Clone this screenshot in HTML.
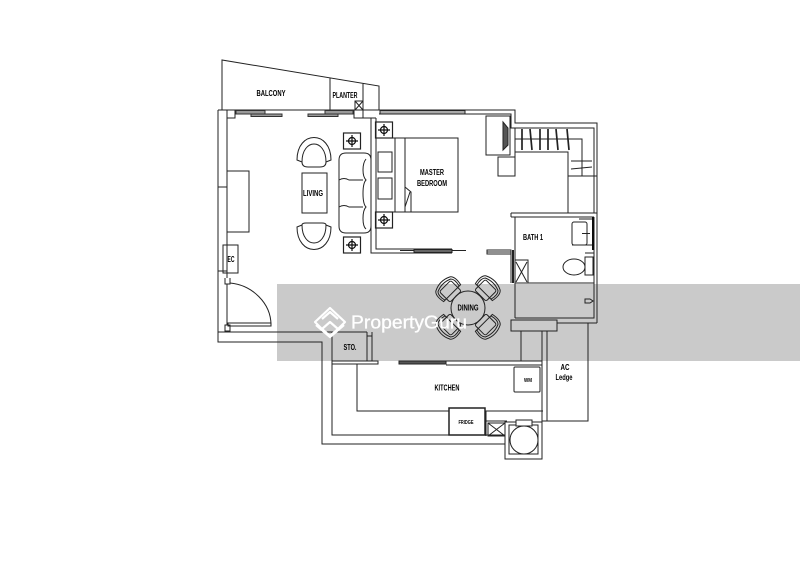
<!DOCTYPE html>
<html><head><meta charset="utf-8"><style>
html,body{margin:0;padding:0;background:#fff}
svg{display:block}
text{font-family:"Liberation Sans",sans-serif;fill:#000;font-weight:bold;text-anchor:middle}
</style></head><body>
<svg width="800" height="566" viewBox="0 0 800 566" xmlns="http://www.w3.org/2000/svg">
<defs>
<filter id="b"><feGaussianBlur stdDeviation="0.35"/></filter>
<g id="lamp"><rect x="-8.500" y="-8" width="17" height="16" fill="none" stroke="#222" stroke-width="1.200"/><circle r="3.500" fill="none" stroke="#111" stroke-width="1.200"/><path d="M-6 0H6M0-6V6" stroke="#111" stroke-width="1.200"/></g>
<g id="chair" fill="none" stroke="#222" stroke-width="1"><rect x="-8" y="-7" width="16" height="15" rx="2"/><path d="M-10 3Q-12-5-9-8Q0-12 9-8Q12-5 10 3"/><path d="M-12 3Q-14-7-10-10Q0-15 10-10Q14-7 12 3Z"/></g>
</defs>
<rect width="800" height="566" fill="#fff"/>
<rect x="277" y="284" width="523" height="77" fill="#cacaca"/>
<g filter="url(#b)">
<g fill="none" stroke="#222" stroke-width="1">
<!-- balcony -->
<path d="M222 110V60L379 86V110M330 78V110M363 83V118"/>
<rect x="355" y="101" width="8" height="9"/><path d="M355 101L363 110M363 101L355 110"/>
<!-- outer wall living -->
<path d="M218 110H379M218 110V342H322V444H505M227 118V278M227 284V325M218 332H367M332 332V435H505"/>
<path d="M218 187H227M218 271H227"/>
<rect x="227" y="110" width="8" height="8"/><rect x="354" y="110" width="9" height="8"/>
<path d="M363 118H376M371 118V253H452M376 118V249H452"/>
<!-- window strips -->
<g fill="#999" stroke="#333"><rect x="236" y="110.500" width="29" height="3.500"/><rect x="251" y="114" width="31" height="2.500"/><rect x="308" y="114" width="30" height="2.500"/><rect x="325" y="110.500" width="28" height="3.500"/></g>
<!-- bedroom top wall -->
<path d="M379 110H515V123H597V323M379 114H511V128H594V213M515 114V123"/>
<rect x="380" y="110.500" width="85" height="3.500" fill="#aaa"/>
<!-- wardrobe -->
<rect x="486" y="116" width="24" height="39"/>
<path d="M503 122L508 128V145L503 150Z" fill="#555"/>
<rect x="498" y="157" width="17" height="19"/>
<path d="M515 128V157M515 139H582V176M515 152H568V213M568 176H597M571 161H592M571 169L592 167"/>
<path d="M522 129V150M530 129L532 150M540 129V150M548 129V150M556 129L558 150M567 129L569 150" stroke-width="1.700" stroke="#222"/>
<!-- bath -->
<path d="M511 213H597M511 217H594M511 213V217M515 217V318M511 250V283M515 318H594V217M511 320H557V331H511ZM557 323H597"/>
<path d="M513 250V283" stroke-width="2" stroke="#222"/>
<rect x="572" y="222" width="15" height="23" rx="2"/><path d="M579 219H593M572 245H593M585 253H594M582 233.500H590"/>
<path d="M593 217V250" stroke-width="2" stroke="#111"/>
<rect x="515" y="260" width="13" height="23"/><path d="M516 262L527 282M527 262L516 282"/>
<ellipse cx="574" cy="267" rx="11" ry="8"/><rect x="585" y="257" width="8" height="18"/>
<path d="M515 283H594"/>
<path d="M585 299H590L593 301L590 303H585Z"/>
<!-- bedroom furniture -->
<path d="M376 138H458V212H376M395 138V212M405 138V212M405 187L411 192V212M405 207L410 192"/>
<rect x="378" y="152" width="14" height="20"/><rect x="378" y="178" width="14" height="21"/>
<path d="M400 250.500H466M487 252H511"/>
<rect x="414" y="249.500" width="38" height="3" fill="#666"/>
<rect x="487" y="250" width="24" height="4"/>
<!-- sofa -->
<path d="M339 160Q339 153 346 153H364Q371 153 371 160V226Q371 233 364 233H346Q339 233 339 226Z"/>
<path d="M339 180Q344 177 349 180H363M339 207Q344 204 349 207H363M366 159C362 164 362 176 366 180C362 184 362 203 366 207C362 211 362 226 366 229"/>
<!-- living chairs -->
<path d="M297 160C297 130 331 130 331 160L326 162C326 138 302 138 302 162Z"/>
<path d="M302 162Q302 167 308 167H320Q326 167 326 162"/>
<path d="M297 227C297 257 331 257 331 227L326 225C326 249 302 249 302 225Z"/>
<path d="M302 225Q302 223 306 223H322Q326 223 326 225"/>
<rect x="302" y="173" width="25" height="40"/>
<rect x="227" y="171" width="22" height="61"/>
<rect x="223" y="245" width="15" height="28"/>
<path d="M230 283C252 285 271 303 271 325"/>
<rect x="228" y="323" width="43" height="3"/>
<path d="M225 278V284H230V278M225 325H230V331H225Z"/>
<!-- dining -->
<circle cx="468" cy="308" r="17"/>
<!-- kitchen -->
<path d="M367 332V361M372 332V361M367 336H372M332 361H378V364H332M357 364V411H449M485 411H543M446 361H542M446 365H542M399 362H446M521 331V361M542 331V421H547V331M547 421H588V323"/>
<rect x="399" y="361" width="47" height="3" fill="#555"/>
<rect x="514" y="367" width="26" height="25" rx="1"/>
<rect x="449" y="408" width="36" height="27" stroke-width="1.500"/>
<path d="M486 411V436M486 421H507"/>
<rect x="488" y="423" width="17" height="13"/><path d="M488 423L505 436M505 423L488 436"/>
<rect x="505" y="422" width="37" height="37"/><rect x="509" y="425" width="29" height="29"/>
<circle cx="524" cy="440" r="14"/><rect x="516" y="420" width="16" height="6" fill="#fff"/>
</g>
<use href="#lamp" x="352" y="141"/><use href="#lamp" x="352" y="245"/><use href="#lamp" x="384" y="130"/><use href="#lamp" x="384" y="220"/>
<use href="#chair" transform="translate(450 291) rotate(-45)"/>
<use href="#chair" transform="translate(486 290) rotate(45)"/>
<use href="#chair" transform="translate(486 325) rotate(135)"/>
<use href="#chair" transform="translate(450 325) rotate(225)"/>
<g font-size="8">
<text x="271" y="96" textLength="29" lengthAdjust="spacingAndGlyphs">BALCONY</text>
<text x="345" y="98" textLength="25" lengthAdjust="spacingAndGlyphs">PLANTER</text>
<text x="313" y="196" textLength="20" lengthAdjust="spacingAndGlyphs">LIVING</text>
<text x="432" y="175" textLength="24" lengthAdjust="spacingAndGlyphs">MASTER</text>
<text x="432" y="186" textLength="30" lengthAdjust="spacingAndGlyphs">BEDROOM</text>
<text x="533" y="240" textLength="20" lengthAdjust="spacingAndGlyphs">BATH 1</text>
<text x="231" y="262" textLength="7" lengthAdjust="spacingAndGlyphs">EC</text>
<text x="468" y="310.500" textLength="21" lengthAdjust="spacingAndGlyphs">DINING</text>
<text x="350" y="350" textLength="13" lengthAdjust="spacingAndGlyphs">STO.</text>
<text x="447" y="390.500" textLength="25" lengthAdjust="spacingAndGlyphs">KITCHEN</text>
<text x="565" y="370" textLength="9" lengthAdjust="spacingAndGlyphs">AC</text>
<text x="564" y="380" textLength="17" lengthAdjust="spacingAndGlyphs">Ledge</text>
</g>
<text x="466" y="424" font-size="5" textLength="15" lengthAdjust="spacingAndGlyphs">FRIDGE</text>
<text x="528" y="382" font-size="5" textLength="8" lengthAdjust="spacingAndGlyphs">WM</text>
</g>
<!-- watermark -->
<g fill="none" stroke="#fff" stroke-width="2.200" stroke-linejoin="round">
<path d="M330 308L345 322L338 329L330 322L322 329L315 322Z"/>
<path d="M322 319L330 312L338 319"/>
<path d="M316 325L330 337L344 325"/>
<path d="M322 329L330 336L338 329"/>
</g>
<text x="409" y="328.500" font-size="18" textLength="116" lengthAdjust="spacingAndGlyphs" style="fill:#fff;font-weight:normal;stroke:#fff;stroke-width:.3">PropertyGuru</text>
</svg>
</body></html>
